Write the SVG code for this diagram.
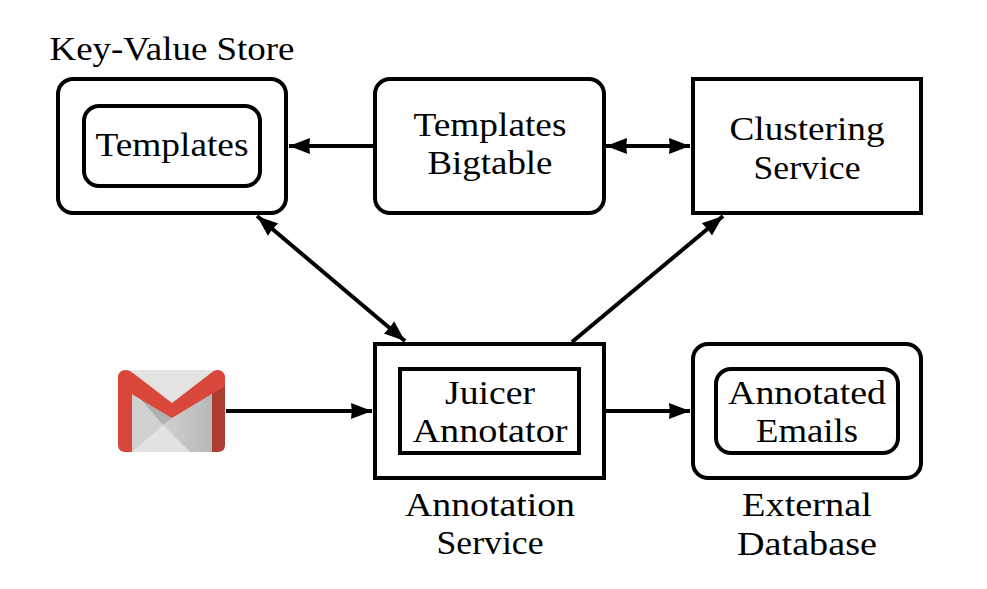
<svg xmlns="http://www.w3.org/2000/svg" width="987" height="589" viewBox="0 0 987 589">
<style>
.b{fill:#fff;stroke:#000;stroke-width:4}
.c{fill:none;stroke:#000;stroke-width:4}
text{font-family:"Liberation Serif","Times New Roman",serif;font-size:33px;fill:#000;text-anchor:middle}
</style>
<defs>
<marker id="a" markerUnits="userSpaceOnUse" markerWidth="24" markerHeight="20" refX="21" refY="9" orient="auto-start-reverse" viewBox="0 0 24 18"><path d="M0 1L21 9L0 17Q1.500 9 0 1Z" fill="#000"/></marker>
<linearGradient id="g" x1="0" x2="1" y1="0" y2="0"><stop offset="0" stop-color="#d0d0d0"/><stop offset="1" stop-color="#b8b8b8"/></linearGradient>
</defs>
<rect width="987" height="589" fill="#fff"/>
<g id="connectors">
<path class="c" d="M374 146H289" marker-end="url(#a)"/>
<path class="c" d="M606 146H690" marker-start="url(#a)" marker-end="url(#a)"/>
<path class="c" d="M257 216L405 341" marker-start="url(#a)" marker-end="url(#a)"/>
<path class="c" d="M572 342L723 216" marker-end="url(#a)"/>
<path class="c" d="M226 411H372" marker-end="url(#a)"/>
<path class="c" d="M606 411H690" marker-end="url(#a)"/>
</g>
<g id="kv-store">
<text x="172" y="60" textLength="245" lengthAdjust="spacingAndGlyphs">Key-Value Store</text>
<rect class="b" x="58" y="79" width="228" height="134" rx="15"/>
<rect class="b" x="84" y="106" width="176" height="80" rx="15"/>
<text x="172" y="156" textLength="153" lengthAdjust="spacingAndGlyphs">Templates</text>
</g>
<g id="bigtable">
<rect class="b" x="375" y="79" width="229" height="134" rx="15"/>
<text x="490" y="136" textLength="153" lengthAdjust="spacingAndGlyphs">Templates</text>
<text x="490" y="174" textLength="125" lengthAdjust="spacingAndGlyphs">Bigtable</text>
</g>
<g id="clustering">
<rect class="b" x="693" y="79" width="228" height="134"/>
<text x="807" y="140" textLength="155" lengthAdjust="spacingAndGlyphs">Clustering</text>
<text x="807" y="179" textLength="107" lengthAdjust="spacingAndGlyphs">Service</text>
</g>
<g id="gmail">
<path d="M124 370H219V452H124Z" fill="#e3e3e3"/>
<path d="M132 392L163 425L132 452Z" fill="#d0d0d0"/>
<path d="M132 452L163 425L190 452Z" fill="#e2e2e2"/>
<path d="M163 425L172 418L212 390V452H190Z" fill="url(#g)"/>
<path d="M132 390L172 418L163 425Z" fill="#b0b0b0"/>
<path d="M118 380H132V452H125Q118 452 118 445Z" fill="#d9473b"/>
<path d="M212 385L225 380V445Q225 452 218 452H212Z" fill="#ab3e31"/>
<path d="M118 386V378Q118 370 126 370Q129 370 133 373L172 403L211 373Q215 370 217 370Q225 370 225 378V386L172 418Z" fill="#d9483b"/>
</g>
<g id="annotator">
<rect class="b" x="375" y="344" width="229" height="134"/>
<rect class="b" x="400" y="369" width="179" height="84"/>
<text x="490" y="404" textLength="90" lengthAdjust="spacingAndGlyphs">Juicer</text>
<text x="490" y="442" textLength="155" lengthAdjust="spacingAndGlyphs">Annotator</text>
<text x="490" y="516" textLength="170" lengthAdjust="spacingAndGlyphs">Annotation</text>
<text x="490" y="554" textLength="107" lengthAdjust="spacingAndGlyphs">Service</text>
</g>
<g id="external-db">
<rect class="b" x="693" y="344" width="228" height="134" rx="15"/>
<rect class="b" x="716" y="369" width="182" height="84" rx="15"/>
<text x="807" y="404" textLength="158" lengthAdjust="spacingAndGlyphs">Annotated</text>
<text x="807" y="442" textLength="102" lengthAdjust="spacingAndGlyphs">Emails</text>
<text x="807" y="516" textLength="130" lengthAdjust="spacingAndGlyphs">External</text>
<text x="807" y="555" textLength="140" lengthAdjust="spacingAndGlyphs">Database</text>
</g>
</svg>
